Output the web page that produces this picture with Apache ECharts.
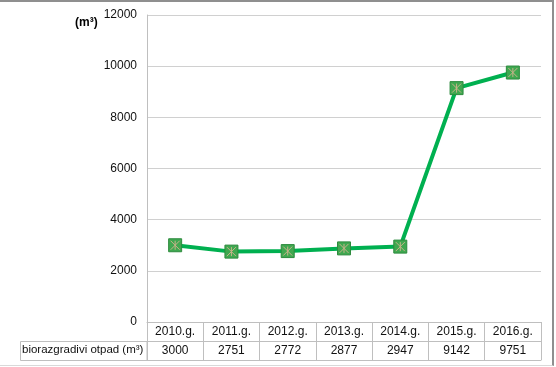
<!DOCTYPE html>
<html><head><meta charset="utf-8">
<script src="https://cdn.jsdelivr.net/npm/echarts@6/dist/echarts.min.js"></script>
<style>
html,body{margin:0;padding:0;background:#fff}
#wrap{position:relative;width:556px;height:367px;overflow:hidden}
#c{width:556px;height:367px}
#frame{position:absolute;left:-2px;top:0;width:554px;height:363px;border-top:2px solid #8f8f8f;border-right:2px solid #8f8f8f;border-bottom:1px solid #d9d9d9;pointer-events:none}
</style></head><body>
<div id="wrap"><div id="c"></div><div id="frame"></div></div>
<script>
var categories = ['2010.g.', '2011.g.', '2012.g.', '2013.g.', '2014.g.', '2015.g.', '2016.g.'];
var values = [3000, 2751, 2772, 2877, 2947, 9142, 9751];
var seriesName = 'biorazgradivi otpad (m³)';
var unitLabel = '(m³)';
var yTicks = {min: 0, max: 12000, interval: 2000};

var FONT = 'Liberation Sans, Arial, sans-serif';
var GRAY = '#bfbfbf';
var chart = echarts.init(document.getElementById('c'), null, {renderer: 'canvas'});
chart.setOption({
  animation: false,
  backgroundColor: 'transparent',
  grid: {left: 147, right: 15, top: 15, bottom: 45, containLabel: false},
  xAxis: [
    {type: 'category', data: categories, position: 'bottom',
     axisLine: {show: true, lineStyle: {color: GRAY, width: 1}},
     axisTick: {show: true, length: 38, interval: 0, lineStyle: {color: GRAY}},
     axisLabel: {margin: 4, color: '#111', fontSize: 12, fontFamily: FONT, interval: 0},
     splitLine: {show: false}},
    {type: 'category', data: values.map(String), position: 'bottom', offset: 19,
     axisLine: {show: true, lineStyle: {color: GRAY, width: 1}},
     axisTick: {show: false},
     axisLabel: {margin: 4, color: '#111', fontSize: 12, fontFamily: FONT, interval: 0}},
    {type: 'category', data: categories, position: 'bottom', offset: 38,
     axisLine: {show: true, lineStyle: {color: GRAY, width: 1}},
     axisTick: {show: false}, axisLabel: {show: false}}
  ],
  yAxis: {type: 'value', min: yTicks.min, max: yTicks.max, interval: yTicks.interval,
    axisLine: {show: true, lineStyle: {color: GRAY}},
    axisTick: {show: false},
    axisLabel: {margin: 10, color: '#111', fontSize: 12, fontFamily: FONT,
      formatter: function (v) { return String(v); }},
    splitLine: {show: true, lineStyle: {color: '#d0d0d0', width: 1}}},
  graphic: [
    {type: 'text', left: 75, top: 17, style: {text: unitLabel, font: 'bold 12px ' + FONT, fill: '#000'}},
    {type: 'rect', shape: {x: 20.5, y: 341.5, width: 126.5, height: 19}, style: {fill: 'none', stroke: GRAY, lineWidth: 1}, z: 10},
    {type: 'text', left: 22, top: 344, style: {text: seriesName, font: '11.5px ' + FONT, fill: '#111'}, z: 10}
  ],
  series: [
    {type: 'line', name: seriesName, data: values, xAxisIndex: 0,
     lineStyle: {color: '#00b050', width: 4},
     symbol: 'rect', symbolSize: 13, showSymbol: true,
     itemStyle: {color: '#3fa850', borderColor: '#2e8b3e', borderWidth: 1},
     z: 2, silent: true},
    {type: 'line', data: values, xAxisIndex: 0,
     lineStyle: {opacity: 0, width: 0},
     symbol: 'path://M0,0L10,10M10,0L0,10M5,0L5,10', symbolSize: 9, showSymbol: true,
     itemStyle: {color: 'rgba(0,0,0,0)', borderColor: '#c8b28a', borderWidth: 1},
     z: 3, silent: true}
  ]
});
</script>
</body></html>
